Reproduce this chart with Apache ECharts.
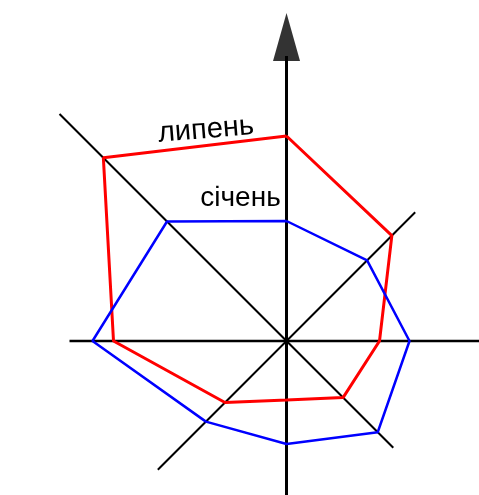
<!DOCTYPE html>
<html>
<head>
<meta charset="utf-8">
<script src="https://cdn.jsdelivr.net/npm/echarts@6/dist/echarts.min.js"></script>
<style>
    html, body { margin: 0; padding: 0; background: #fff; }
    #rose { width: 479px; height: 495px; }
</style>
</head>
<body>
<div id="rose"></div>
<script>
// напрямки вітру (за годинниковою стрілкою від півночі)
var dirs = ['Пн', 'ПнСх', 'Сх', 'ПдСх', 'Пд', 'ПдЗх', 'Зх', 'ПнЗх'];
var dirAngles = [0, 45, 90, 135, 180, 225, 270, 315];
// повторюваність вітру
var lypen = [205, 149, 93, 80, 59, 87, 173, 259];
var sichen = [120, 114, 123, 129, 103, 114, 194, 169];
// довжина променів осей
var axisReach = [285, 182, 200, 151, 160, 182, 217, 321];
var axisWidth = [3, 2, 2.5, 2];
var arrowAt = 304;

function roseChart(id){
    var chart = echarts.init(document.getElementById(id));

    function closed(vals){
        var d = vals.map(function(v, i){ return [v, dirAngles[i]]; });
        d.push([vals[0], 360]);
        return d;
    }

    var series = [];
    // осі: від одного кінця до протилежного через центр
    for (var i = 0; i < 4; i++) {
        series.push({
            name: dirs[i] + ' - ' + dirs[i + 4],
            type: 'line',
            coordinateSystem: 'polar',
            symbol: 'none',
            silent: true,
            clip: false,
            lineStyle: { color: '#000', width: axisWidth[i] },
            data: [[axisReach[i], dirAngles[i]], [axisReach[i + 4], dirAngles[i + 4]]],
            z: 1
        });
    }
    // стрілка на північ
    series.push({
        type: 'scatter',
        coordinateSystem: 'polar',
        symbol: 'triangle',
        symbolSize: [27, 48],
        silent: true,
        clip: false,
        itemStyle: { color: '#000' },
        data: [[arrowAt, dirAngles[0]]],
        z: 2
    });
    series.push({
        name: 'липень',
        type: 'line',
        coordinateSystem: 'polar',
        symbol: 'none',
        silent: true,
        clip: false,
        lineStyle: { color: '#ff0000', width: 3 },
        data: closed(lypen),
        z: 3
    });
    series.push({
        name: 'січень',
        type: 'line',
        coordinateSystem: 'polar',
        symbol: 'none',
        silent: true,
        clip: false,
        lineStyle: { color: '#0000ff', width: 2.5 },
        data: closed(sichen),
        z: 4
    });

    var option = {
        animation: false,
        polar: {
            center: [286.5, 341],
            radius: 330
        },
        angleAxis: {
            type: 'value',
            min: 0,
            max: 360,
            interval: 45,
            startAngle: 90,
            clockwise: true,
            axisLine: { show: false },
            axisTick: { show: false },
            axisLabel: { show: false },
            splitLine: { show: false }
        },
        radiusAxis: {
            type: 'value',
            min: 0,
            max: 330,
            axisLine: { show: false },
            axisTick: { show: false },
            axisLabel: { show: false },
            splitLine: { show: false }
        },
        graphic: [
            {
                type: 'text',
                x: 206,
                y: 130,
                rotation: 0.08,
                style: {
                    text: 'липень',
                    font: '29px "Liberation Sans", Arial, sans-serif',
                    fill: '#000',
                    align: 'center',
                    verticalAlign: 'middle'
                }
            },
            {
                type: 'text',
                x: 240.5,
                y: 198,
                style: {
                    text: 'січень',
                    font: '28px "Liberation Sans", Arial, sans-serif',
                    fill: '#000',
                    align: 'center',
                    verticalAlign: 'middle'
                }
            }
        ],
        series: series
    };
    chart.setOption(option);
    window.addEventListener("resize", function(){
        chart.resize();
    });
}
roseChart("rose");
</script>
</body>
</html>
